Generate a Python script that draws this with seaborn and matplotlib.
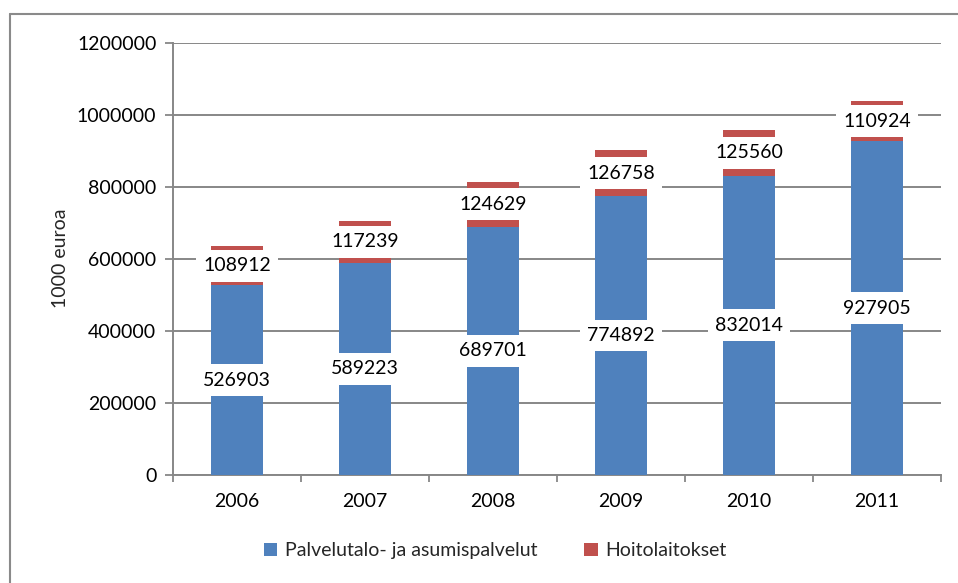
import matplotlib
matplotlib.use("Agg")
import matplotlib.pyplot as plt
import seaborn as sns
import pandas as pd
from matplotlib.patches import Patch
from matplotlib.lines import Line2D

years = ["2006", "2007", "2008", "2009", "2010", "2011"]
palvelutalo = [526903, 589223, 689701, 774892, 832014, 927905]
hoitolaitokset = [108912, 117239, 124629, 126758, 125560, 110924]
series_names = ["Palvelutalo- ja asumispalvelut", "Hoitolaitokset"]
yticks = [0, 200000, 400000, 600000, 800000, 1000000, 1200000]
ylabel = "1000 euroa"

blue = "#4F81BD"
red = "#C0504D"
grid = "#878787"

sns.set_theme(style="white")
plt.rcParams["font.family"] = ["Lato", "DejaVu Sans"]

df = pd.DataFrame({"year": years, "p": palvelutalo, "h": hoitolaitokset})
df["total"] = df["p"] + df["h"]

fig = plt.figure(figsize=(9.58, 5.83), dpi=100)
ax = fig.add_axes([0.1806, 0.1852, 0.9823 - 0.1806, 0.9262 - 0.1852])

sns.barplot(data=df, x="year", y="total", color=red, width=0.4, ax=ax,
            saturation=1, edgecolor="none", linewidth=0, zorder=2)
sns.barplot(data=df, x="year", y="p", color=blue, width=0.4, ax=ax,
            saturation=1, edgecolor="none", linewidth=0, zorder=3)

fs = 14
ax.set_ylim(0, 1200000)
ax.set_xlim(-0.5, len(years) - 0.5)
ax.set_yticks(yticks)
ax.set_yticklabels([str(v) for v in yticks], fontsize=fs, color="black")
ax.set_xticks(range(len(years)))
ax.set_xticklabels(years, fontsize=fs, color="black")
ax.set_xticks([i - 0.5 for i in range(len(years) + 1)], minor=True)
ax.tick_params(axis="x", which="major", length=0, pad=13)
ax.tick_params(axis="x", which="minor", length=5, width=1.3, color=grid, direction="out", bottom=True)
ax.tick_params(axis="y", which="major", length=6, width=1.3, color=grid, direction="out", left=True, pad=6)
ax.set_xlabel("")
ax.set_ylabel("")
ax.yaxis.grid(True, color=grid, linewidth=1.4)
ax.set_axisbelow(True)
for s in ["top", "right"]:
    ax.spines[s].set_visible(False)
for s in ["left", "bottom"]:
    ax.spines[s].set_color(grid)
    ax.spines[s].set_linewidth(1.4)

for i in range(len(years)):
    p = palvelutalo[i]
    h = hoitolaitokset[i]
    for val, ypos in [(p, p / 2), (h, p + h / 2)]:
        ax.text(i, ypos, str(val), ha="center", va="center", fontsize=fs,
                color="black", zorder=5,
                bbox=dict(boxstyle="square,pad=0.38", facecolor="white", edgecolor="none"))

fig.text(0.063, 0.557, ylabel, rotation=90, ha="center", va="center", fontsize=fs)

handles = [Patch(facecolor=blue, edgecolor="none"), Patch(facecolor=red, edgecolor="none")]
fig.legend(handles, series_names, loc="center", bbox_to_anchor=(0.517, 0.055), ncol=2,
           frameon=False, fontsize=fs, handlelength=0.7, handleheight=0.7,
           handletextpad=0.4, columnspacing=2.4)

fig.add_artist(Line2D([10 / 958, 1.0], [1 - 14 / 583, 1 - 14 / 583], color="#8a8a8a", lw=1.5,
                      transform=fig.transFigure))
fig.add_artist(Line2D([10 / 958, 10 / 958], [0, 1 - 14 / 583], color="#8a8a8a", lw=1.5,
                      transform=fig.transFigure))

fig.savefig("out.png", dpi=100, facecolor="white")
